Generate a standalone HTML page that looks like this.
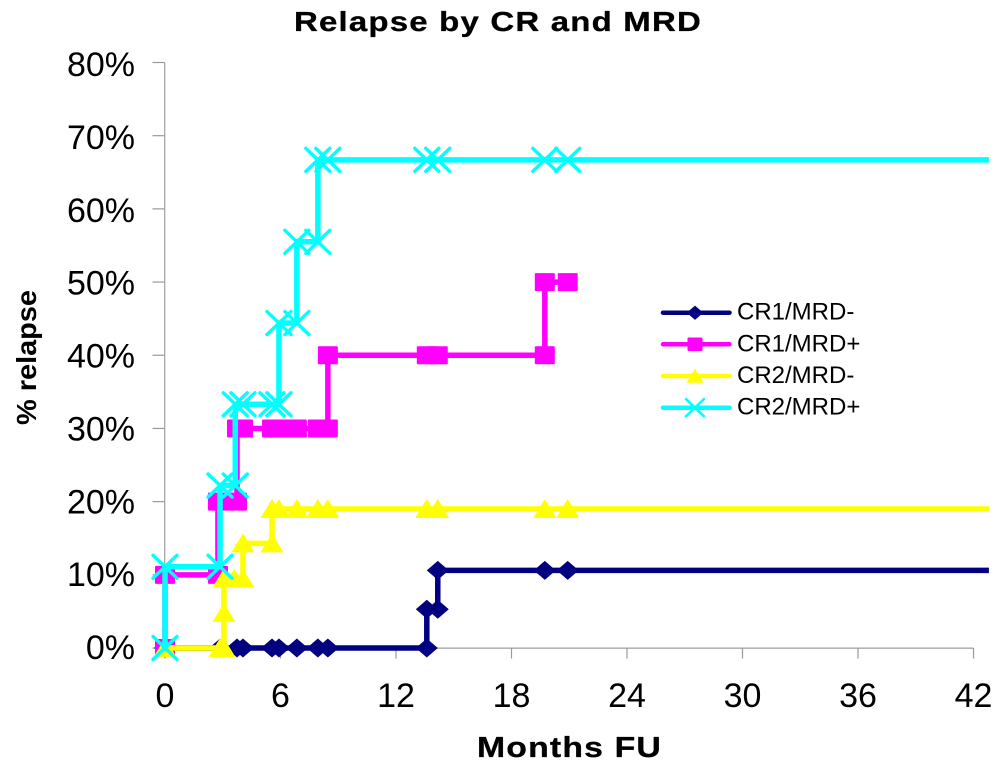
<!DOCTYPE html>
<html lang="en">
<head>
<meta charset="utf-8">
<title>Relapse by CR and MRD</title>
<style>
html,body{margin:0;padding:0;background:#fff;}
svg{display:block;font-family:"Liberation Sans",Arial,sans-serif;}
</style>
</head>
<body>
<svg id="chart" width="1000" height="764" viewBox="0 0 1000 764" xmlns="http://www.w3.org/2000/svg">
  <rect x="0" y="0" width="1000" height="764" fill="#fff"/>
  <text x="294" y="31" font-size="28" font-weight="700" fill="#000" stroke="#000" stroke-width="0.3" letter-spacing="1" textLength="408" lengthAdjust="spacingAndGlyphs">Relapse by CR and MRD</text>
  <text transform="translate(36 425) rotate(-90)" font-size="28" font-weight="700" fill="#000" textLength="135" lengthAdjust="spacingAndGlyphs">% relapse</text>
  <text x="477" y="757" font-size="29" font-weight="700" fill="#000" stroke="#000" stroke-width="0.3" letter-spacing="1" textLength="185" lengthAdjust="spacingAndGlyphs">Months FU</text>
  <g id="axes"></g>
  <g id="series"></g>
  <g id="legend"></g>
</svg>
<script>
const xTickLabels = [0, 6, 12, 18, 24, 30, 36, 42];
const yTickLabels = [0, 10, 20, 30, 40, 50, 60, 70, 80];
const followUpEnd = 42.8;

const cr1NegMonths = [0, 2.86, 3.74, 4.05, 5.56, 5.92, 6.85, 7.94, 8.46, 13.6, 13.6, 14.17, 14.17, 19.73, 20.92];
const cr1NegValues = [0, 0, 0, 0, 0, 0, 0, 0, 0, 0, 5.3, 5.3, 10.6, 10.6, 10.6];

const cr1PosMonths = [0, 0, 2.75, 2.75, 3.74, 3.74, 4.05, 5.56, 5.92, 6.85, 7.94, 8.46, 8.46, 13.6, 14.17, 19.73, 19.73, 20.92];
const cr1PosValues = [0, 10, 10, 20, 20, 30, 30, 30, 30, 30, 30, 30, 40, 40, 40, 40, 50, 50];

const cr2NegMonths = [0, 2.86, 3.06, 3.06, 3.06, 3.6, 4.05, 4.05, 5.56, 5.56, 5.92, 6.85, 7.94, 8.46, 13.6, 14.17, 19.73, 20.92];
const cr2NegValues = [0, 0, 0, 4.8, 9.5, 9.5, 9.5, 14.3, 14.3, 19, 19, 19, 19, 19, 19, 19, 19, 19];

const cr2PosMonths = [0, 0, 2.86, 2.86, 3.65, 3.65, 4.05, 5.56, 5.92, 5.92, 6.85, 6.85, 7.94, 7.94, 8.46, 13.6, 14.17, 19.73, 20.92];
const cr2PosValues = [0, 11.1, 11.1, 22.2, 22.2, 33.3, 33.3, 33.3, 33.3, 44.4, 44.4, 55.5, 55.5, 66.7, 66.7, 66.7, 66.7, 66.7, 66.7];

const seriesNames = ['CR1/MRD-', 'CR1/MRD+', 'CR2/MRD-', 'CR2/MRD+'];
const seriesColors = ['#000080', '#ff00ff', '#ffff00', '#00ffff'];
const seriesMarkers = ['diamond', 'square', 'triangle', 'cross'];
const seriesMonths = [cr1NegMonths, cr1PosMonths, cr2NegMonths, cr2PosMonths];
const seriesValues = [cr1NegValues, cr1PosValues, cr2NegValues, cr2PosValues];
const seriesContinues = [true, false, true, true];

const NS = 'http://www.w3.org/2000/svg';
const xScale = m => 165 + (m / 42) * 808.5;
const yScale = v => 648 - (v / 80) * 585.5;
const yLabelBaseline = v => 659 - (v / 80) * 583;

function make(parent, tag, attrs, text) {
  const el = document.createElementNS(NS, tag);
  for (const k in attrs) el.setAttribute(k, attrs[k]);
  if (text !== undefined) el.textContent = text;
  parent.appendChild(el);
  return el;
}

function drawMarker(parent, kind, cx, cy, color, s) {
  let el;
  if (kind === 'diamond') {
    el = make(parent, 'polygon', {points: `${cx},${cy - 9.5 * s} ${cx + 11 * s},${cy} ${cx},${cy + 9.5 * s} ${cx - 11 * s},${cy}`, fill: color});
  } else if (kind === 'square') {
    el = make(parent, 'rect', {x: cx - 10 * s, y: cy - 9 * s, width: 20 * s, height: 18 * s, rx: 1, fill: color});
  } else if (kind === 'triangle') {
    el = make(parent, 'polygon', {points: `${cx},${cy - 10 * s} ${cx + 11.5 * s},${cy + 9 * s} ${cx - 11.5 * s},${cy + 9 * s}`, fill: color});
  } else {
    el = make(parent, 'path', {d: `M${cx - 12 * s} ${cy - 11.5 * s}L${cx + 12 * s} ${cy + 11.5 * s}M${cx + 12 * s} ${cy - 11.5 * s}L${cx - 12 * s} ${cy + 11.5 * s}`, stroke: color, 'stroke-width': 3.4 * s, fill: 'none', 'stroke-linecap': 'round'});
  }
  return el;
}

const axes = document.getElementById('axes');
const yAxisLine = make(axes, 'line', {x1: 164.7, y1: yScale(80), x2: 164.7, y2: yScale(0), stroke: '#a6a6a6', 'stroke-width': 1.3});


const xAxisLine = make(axes, 'line', {x1: xScale(0), y1: 648.2, x2: xScale(42), y2: 648.2, stroke: '#b3b3b3', 'stroke-width': 1.6});



yTickLabels.forEach(v => {
  const tick = make(axes, 'line', {x1: 152.5, y1: yScale(v), x2: 164.7, y2: yScale(v), stroke: '#999', 'stroke-width': 1.2});
  
  
  const label = make(axes, 'text', {x: 135, y: yLabelBaseline(v), 'font-size': 34, 'text-anchor': 'end', fill: '#000'}, v + '%');
  
  
});

xTickLabels.forEach(m => {
  const tick = make(axes, 'line', {x1: xScale(m), y1: 648, x2: xScale(m), y2: 658.5, stroke: '#999', 'stroke-width': 1.2});
  
  
  const label = make(axes, 'text', {x: xScale(m), y: 707, 'font-size': 34, 'text-anchor': 'middle', fill: '#000'}, String(m));
  
  
});

const seriesGroup = document.getElementById('series');
seriesNames.forEach((name, i) => {
  const months = seriesMonths[i];
  const values = seriesValues[i];
  const g = make(seriesGroup, 'g', {});
  
  
  const pts = months.map((m, k) => xScale(m) + ',' + yScale(values[k]));
  if (seriesContinues[i]) pts.push(xScale(followUpEnd) + ',' + yScale(values[values.length - 1]));
  const line = make(g, 'polyline', {points: pts.join(' '), fill: 'none', stroke: seriesColors[i], 'stroke-width': 5.5, 'stroke-linejoin': 'round'});
  
  
  months.forEach((m, k) => {
    const marker = drawMarker(g, seriesMarkers[i], xScale(m), yScale(values[k]), seriesColors[i], 1);
    
    
  });
});

const legend = document.getElementById('legend');
const legendRows = [312.7, 344.3, 376, 407.7];
seriesNames.forEach((name, i) => {
  const y = legendRows[i];
  const row = make(legend, 'g', {});
  
  
  const swatch = make(row, 'line', {x1: 663, y1: y, x2: 729.5, y2: y, stroke: seriesColors[i], 'stroke-width': 4.5, 'stroke-linecap': 'round'});
  
  
  const marker = drawMarker(row, seriesMarkers[i], 695, y, seriesColors[i], 0.75);
  
  
  const label = make(row, 'text', {x: 737, y: y + 7, 'font-size': 24, fill: '#000'}, name);
  
  
});
</script>
</body>
</html>
